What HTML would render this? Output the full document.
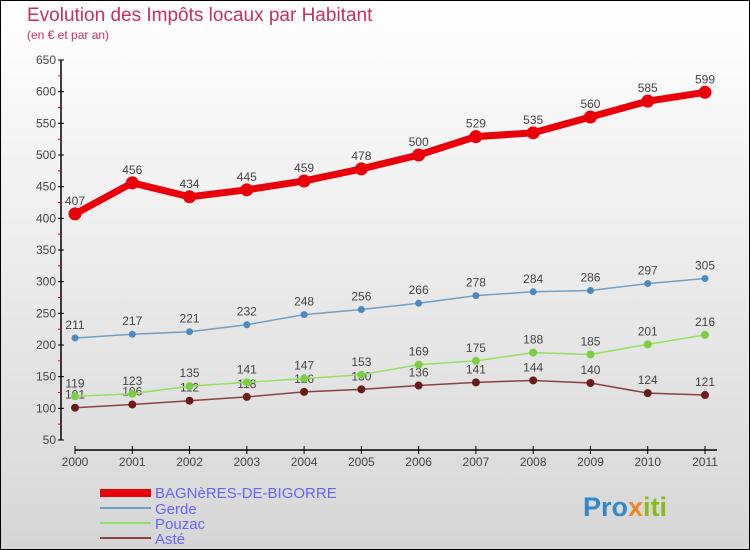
<!DOCTYPE html>
<html><head><meta charset="utf-8"><style>
body{margin:0}
svg{display:block;font-family:"Liberation Sans",sans-serif}
</style></head><body>
<svg id="chart" width="750" height="550">
<defs><linearGradient id="bg" x1="0" y1="0" x2="0" y2="1"><stop offset="0" stop-color="#ffffff"/><stop offset="1" stop-color="#d6d6d6"/></linearGradient></defs>
<rect x="0.5" y="0.5" width="749" height="549" fill="url(#bg)" stroke="#000"/>
<text x="27" y="21" font-size="19" fill="#c2305e">Evolution des Impôts locaux par Habitant</text>
<text x="27" y="39" font-size="12" fill="#c2305e">(en € et par an)</text>
<g id="axes"></g>
<g id="series"></g>
<g id="legend">
<rect x="100" y="489" width="51" height="8" fill="#e8000b"/>
<text x="155" y="498" font-size="15" fill="#6666ee">BAGNèRES-DE-BIGORRE</text>
<line x1="100" y1="508" x2="151" y2="508" stroke="#6fa0c8" stroke-width="2"/>
<text x="155" y="514" font-size="15" fill="#6666ee">Gerde</text>
<line x1="100" y1="523" x2="151" y2="523" stroke="#90e060" stroke-width="2"/>
<text x="155" y="529" font-size="15" fill="#6666ee">Pouzac</text>
<line x1="100" y1="538" x2="151" y2="538" stroke="#8a4040" stroke-width="2"/>
<text x="155" y="544" font-size="15" fill="#6666ee">Asté</text>
</g>
<g>
<text x="583" y="516" font-size="27" font-weight="bold" fill="#3388cc">Pro<tspan fill="#ee8822">x</tspan><tspan fill="#88bb22">iti</tspan></text>
</g>
</svg>
<script>
const years=[2000,2001,2002,2003,2004,2005,2006,2007,2008,2009,2010,2011];
const bagneres=[407,456,434,445,459,478,500,529,535,560,585,599];
const gerde=[211,217,221,232,248,256,266,278,284,286,297,305];
const pouzac=[119,123,135,141,147,153,169,175,188,185,201,216];
const aste=[101,106,112,118,126,130,136,141,144,140,124,121];
const yTicks=[50,100,150,200,250,300,350,400,450,500,550,600,650];
const NS="http://www.w3.org/2000/svg";
function X(i){return 75+i*(705-75)/(years.length-1);}
function Y(v){return 440-(v-50)*(380/600);}
function mk(t,a,p){const e=document.createElementNS(NS,t);for(const k in a)e.setAttribute(k,a[k]);p.appendChild(e);return e;}
const ax=document.getElementById('axes');
const yl=mk('line',{x1:61,y1:Y(650),x2:61,y2:Y(50),stroke:'#000','stroke-width':1.5},ax);


yTicks.forEach(v=>{
 const t=mk('line',{x1:58,y1:Y(v),x2:64,y2:Y(v),stroke:'#000'},ax);
 
 
 const l=mk('text',{x:56,y:Y(v)+4,'font-size':12,fill:'#444','text-anchor':'end'},ax);
 l.textContent=v;
 
 
 if(v<650){const m=mk('line',{x1:58,y1:Y(v+25),x2:61,y2:Y(v+25),stroke:'#e00'},ax);
 
 }
});
const xl=mk('line',{x1:X(0),y1:450,x2:X(years.length-1)+12,y2:450,stroke:'#000','stroke-width':1.5},ax);


years.forEach((y,i)=>{
 const t=mk('line',{x1:X(i),y1:446,x2:X(i),y2:454,stroke:'#000'},ax);
 
 
 const l=mk('text',{x:X(i),y:466,'font-size':12,fill:'#444','text-anchor':'middle'},ax);
 l.textContent=y;
 
 
});
const sg=document.getElementById('series');
function series(name,data,color,w,r,dot){
 const g=mk('g',{},sg);
 
 
 const p=mk('polyline',{points:data.map((v,i)=>X(i)+','+Y(v)).join(' '),fill:'none',stroke:color,'stroke-width':w},g);
 
 
 data.forEach((v,i)=>{
  const c=mk('circle',{cx:X(i),cy:Y(v),r:r,fill:dot},g);
  
  
  const l=mk('text',{x:X(i),y:Y(v)-9,'font-size':12,fill:'#444','text-anchor':'middle'},g);
  l.textContent=v;
  
  
 });
}
series('aste',aste,'#8a4040',1.5,4,'#6a1a1a');
series('pouzac',pouzac,'#90e060',1.5,4,'#77d040');
series('gerde',gerde,'#6fa0c8',1.5,3.5,'#4a8ac0');
series('bagneres',bagneres,'#e8000b',7,6.5,'#e8000b');
</script>
</body></html>
